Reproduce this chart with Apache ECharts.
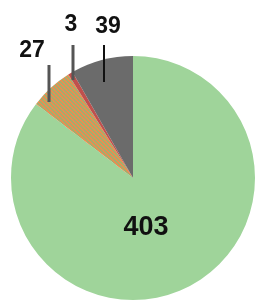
<!DOCTYPE html>
<html>
<head>
<meta charset="utf-8">
<script src="https://cdn.jsdelivr.net/npm/echarts@6/dist/echarts.min.js"></script>
<style>html,body{margin:0;padding:0;background:#fff;}#c{width:260px;height:303px;}</style>
</head>
<body>
<div id="c"></div>
<script>
const categories = ['A', 'B', 'C', 'D'];
const values = [403, 27, 3, 39];

// stripe pattern for the hatched slice
function makeHatch() {
  const cv = document.createElement('canvas');
  cv.width = 4; cv.height = 4;
  const ctx = cv.getContext('2d');
  const img = ctx.createImageData(4, 4);
  for (let y = 0; y < 4; y++) for (let x = 0; x < 4; x++) {
    const i = (y * 4 + x) * 4;
    const orange = ((x - y + 8) % 4) < 2;
    const c = orange ? [236, 140, 80] : [160, 176, 110];
    img.data[i] = c[0]; img.data[i + 1] = c[1]; img.data[i + 2] = c[2]; img.data[i + 3] = 255;
  }
  ctx.putImageData(img, 0, 0);
  return cv;
}

const colors = ['#9fd49a', { image: makeHatch(), repeat: 'repeat' }, '#c0504d', '#6b6b6b'];
// label placement (style only)
const labelPos = [
  { x: 146, y: 228 },
  { x: 32, y: 51, lx: 49, ly0: 102, ly1: 65, lc: '#555' },
  { x: 71, y: 25, lx: 73, ly0: 80, ly1: 45, lc: '#555' },
  { x: 108, y: 27, lx: 104, ly0: 82, ly1: 45, lc: '#111' }
];

const baseSeries = {
  type: 'pie',
  center: [133, 178],
  radius: 122,
  startAngle: 90,
  clockwise: true,
  avoidLabelOverlap: false,
  emphasis: { disabled: true },
  silent: true
};

const chart = echarts.init(document.getElementById('c'), null, { renderer: 'canvas' });
chart.setOption({
  animation: false,
  series: [
    Object.assign({}, baseSeries, {
      z: 2,
      label: { show: false },
      labelLine: { show: false },
      data: values.map((v, i) => ({
        name: categories[i], value: v,
        itemStyle: { color: colors[i], borderWidth: 0 }
      }))
    }),
    Object.assign({}, baseSeries, {
      z: 5,
      label: {
        show: true,
        position: 'outside',
        formatter: '{c}',
        color: '#111',
        fontFamily: 'Liberation Sans',
        fontWeight: 'bold',
        fontSize: 23,
        align: 'center',
        verticalAlign: 'middle'
      },
      labelLine: { show: true, length: 10, length2: 10, lineStyle: { width: 2 } },
      labelLayout: function (p) {
        const lp = labelPos[p.dataIndex];
        const r = { x: lp.x, y: lp.y, align: 'center', verticalAlign: 'middle' };
        if (lp.lx !== undefined) {
          r.labelLinePoints = [[lp.lx, lp.ly0], [lp.lx, (lp.ly0 + lp.ly1) / 2], [lp.lx, lp.ly1]];
        }
        return r;
      },
      data: values.map((v, i) => {
        const lp = labelPos[i];
        const d = {
          name: categories[i], value: v,
          itemStyle: { color: 'rgba(0,0,0,0)', borderWidth: 0 }
        };
        if (i === 0) {
          d.label = { position: 'inside', fontSize: 27 };
          d.labelLine = { show: false };
        } else {
          d.labelLine = { show: true, lineStyle: { color: lp.lc, width: i === 3 ? 2 : 3 } };
        }
        return d;
      })
    })
  ]
});
</script>
</body>
</html>
